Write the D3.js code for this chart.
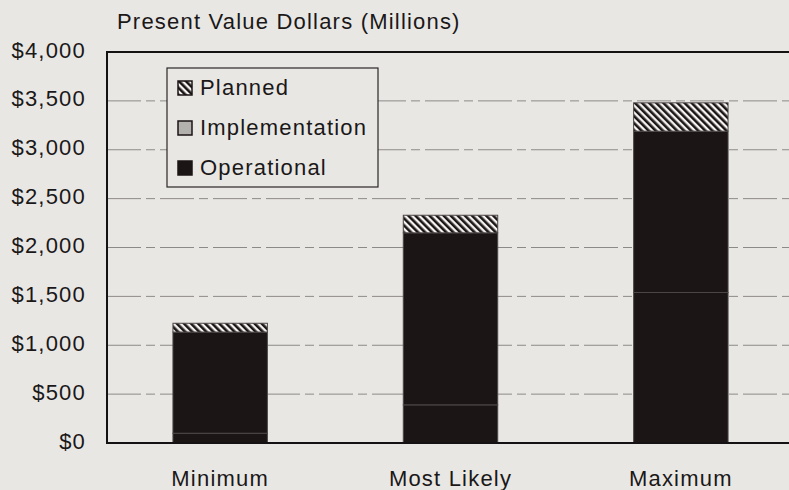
<!DOCTYPE html>
<html lang="en">
<head>
    <meta charset="UTF-8">
    <title>Present Value Dollars</title>
    <script src="https://d3js.org/d3.v7.min.js"></script>
    <style>
        body {
            margin: 0;
            background-color: #e9e7e4;
        }

        text {
            font-family: "Liberation Sans", Arial, sans-serif;
            fill: #1a1818;
            letter-spacing: 1.2px;
        }

        .grid line {
            stroke: #8c8a88;
            stroke-width: 1px;
            stroke-dasharray: 34 5 9 5;
        }
    </style>
</head>
<body>
    <script>
        // Chart data
        const categories = ["Minimum", "Most Likely", "Maximum"];
        const operational = [100, 390, 1540];
        const implementation = [1035, 1760, 1650];
        const planned = [90, 180, 290];
        const yTicks = [0, 500, 1000, 1500, 2000, 2500, 3000, 3500, 4000];

        const seriesNames = ["Operational", "Implementation", "Planned"];
        const legendNames = ["Planned", "Implementation", "Operational"];

        const width = 789;
        const height = 490;
        const plotLeft = 107, plotTop = 52, plotBottom = 443;

        const dark = "#1b1516";

        const svg = d3.select("body").append("svg")
            .attr("width", width)
            .attr("height", height);

        // hatch pattern for "Planned"
        const defs = svg.append("defs");
        const pat = defs.append("pattern")
            .attr("id", "hatch")
            .attr("patternUnits", "userSpaceOnUse")
            .attr("width", 5)
            .attr("height", 5)
            .attr("patternTransform", "rotate(-45)");
        pat.append("rect").attr("width", 5).attr("height", 5).attr("fill", "#f4f3f1");
        pat.append("rect").attr("width", 2.6).attr("height", 5).attr("fill", dark);

        const fills = {
            Operational: dark,
            Implementation: dark,
            Planned: "url(#hatch)"
        };
        const legendFills = {
            Operational: dark,
            Implementation: "#b3b1ae",
            Planned: "url(#hatch)"
        };

        const x = d3.scaleBand()
            .domain(categories)
            .range([105, 796])
            .paddingInner(0.59)
            .paddingOuter(0.295);

        const y = d3.scaleLinear()
            .domain([0, 4000])
            .range([plotBottom, plotTop]);

        // table for stacking
        const table = categories.map((c, i) => ({
            category: c,
            Operational: operational[i],
            Implementation: implementation[i],
            Planned: planned[i]
        }));
        const stacked = d3.stack().keys(seriesNames)(table);

        // gridlines
        svg.append("g")
            .attr("class", "grid")
            .selectAll("line")
            .data(yTicks.filter(t => t > 0 && t < 4000))
            .join("line")
            .attr("x1", plotLeft)
            .attr("x2", width)
            .attr("y1", d => y(d))
            .attr("y2", d => y(d));

        // y tick labels
        svg.append("g")
            .selectAll("text")
            .data(yTicks)
            .join("text")
            .attr("x", 86)
            .attr("y", d => y(d) + 5.5)
            .attr("text-anchor", "end")
            .style("font-size", "22px")
            .text(d => d3.format("$,")(d));

        // bars
        svg.append("g")
            .selectAll("g")
            .data(stacked)
            .join("g")
            .attr("fill", d => fills[d.key])
            .selectAll("rect")
            .data(d => d)
            .join("rect")
            .attr("x", d => x(d.data.category))
            .attr("width", x.bandwidth())
            .attr("y", d => y(d[1]))
            .attr("height", d => y(d[0]) - y(d[1]))
            .attr("stroke", "#4d4748")
            .attr("stroke-width", 1);

        // frame: top, left, bottom
        svg.append("path")
            .attr("d", `M${width},${plotTop}H${plotLeft}V${plotBottom}H${width}`)
            .attr("fill", "none")
            .attr("stroke", "#141212")
            .attr("stroke-width", 2);

        // x labels
        svg.append("g")
            .selectAll("text")
            .data(categories)
            .join("text")
            .attr("x", d => x(d) + x.bandwidth() / 2)
            .attr("y", 486)
            .attr("text-anchor", "middle")
            .style("font-size", "22px")
            .text(d => d);

        // title
        svg.append("text")
            .attr("x", 117)
            .attr("y", 29)
            .style("font-size", "22px")
            .text("Present Value Dollars (Millions)");

        // legend
        const legend = svg.append("g");
        legend.append("rect")
            .attr("x", 167)
            .attr("y", 68)
            .attr("width", 211)
            .attr("height", 119)
            .attr("fill", "#e9e7e4")
            .attr("stroke", "#2a2727")
            .attr("stroke-width", 1.2);

        const item = legend.selectAll(".item")
            .data(legendNames)
            .join("g")
            .attr("class", "item")
            .attr("transform", (d, i) => `translate(0,${95 + i * 40})`);

        item.append("rect")
            .attr("x", 178)
            .attr("y", -14)
            .attr("width", 14)
            .attr("height", 14)
            .attr("fill", d => legendFills[d])
            .attr("stroke", "#1b1516")
            .attr("stroke-width", 1.5);

        item.append("text")
            .attr("x", 200)
            .attr("y", 0)
            .style("font-size", "22px")
            .text(d => d);
    </script>
</body>
</html>
